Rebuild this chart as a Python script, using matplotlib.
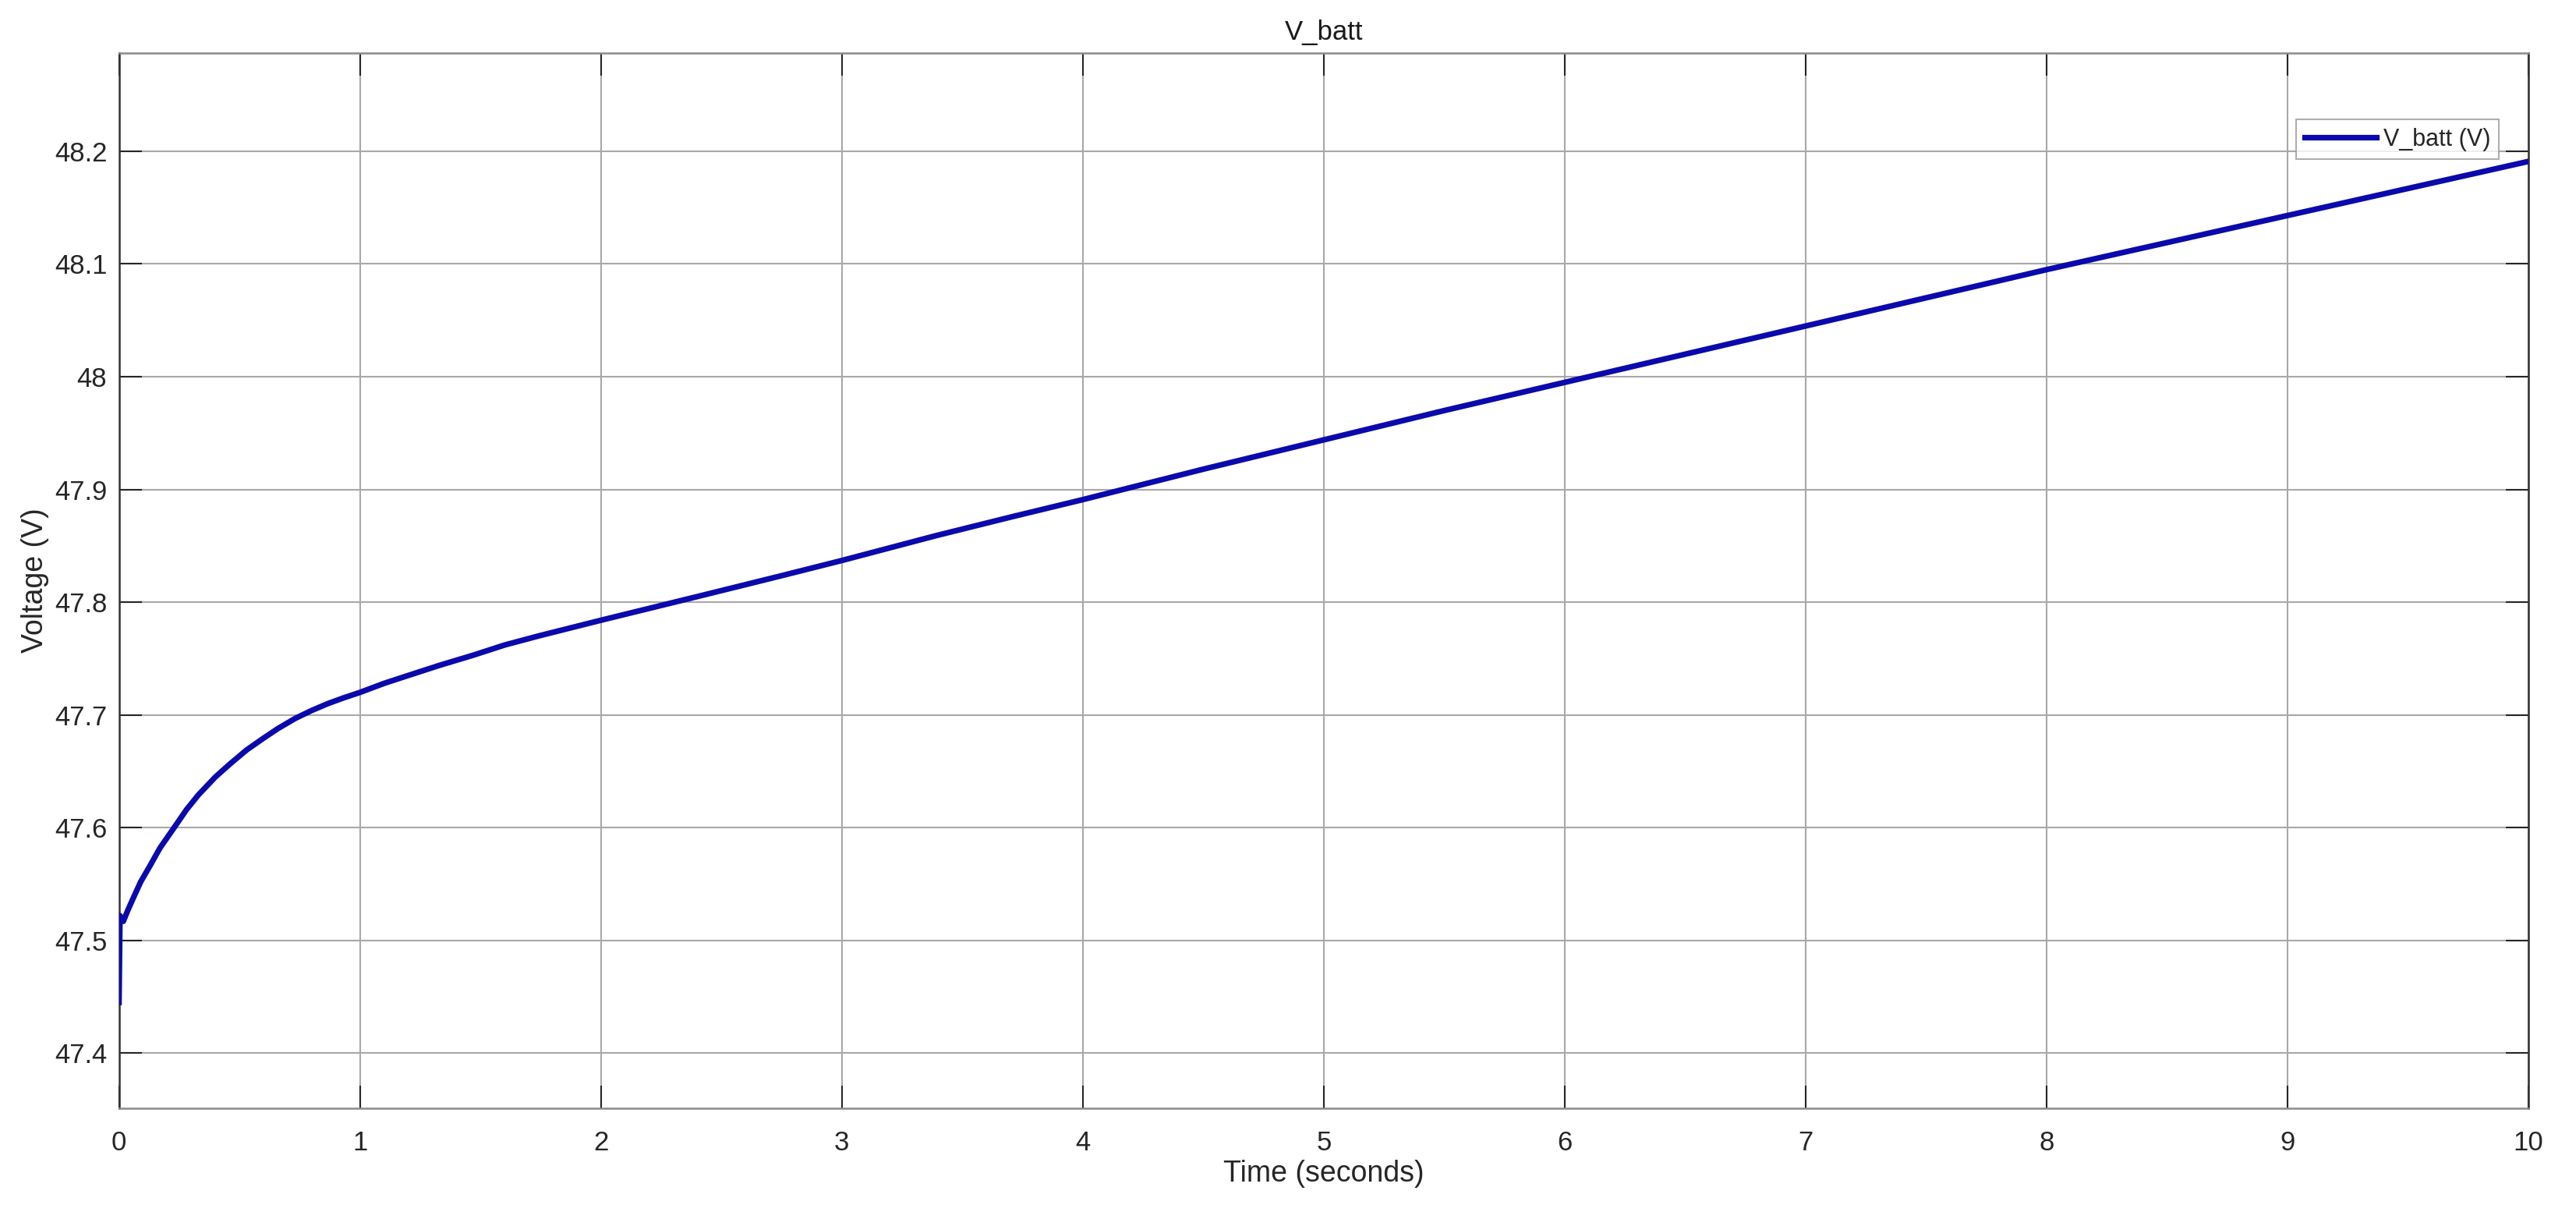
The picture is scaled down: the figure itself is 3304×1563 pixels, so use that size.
import numpy as np
import matplotlib.pyplot as plt

plt.rcParams['font.family'] = ['Liberation Sans', 'DejaVu Sans']

# values
time_s = [0.0, 0.004, 0.018, 0.035, 0.06, 0.09, 0.128, 0.17, 0.235, 0.28,
          0.329, 0.4, 0.463, 0.53, 0.597, 0.66, 0.732, 0.8, 0.866, 0.93, 1.0,
          1.1, 1.2, 1.33, 1.47, 1.6, 1.74, 1.87, 2.0, 2.4, 2.74, 3.0, 3.39,
          3.71, 4.0, 4.5, 5.0, 5.5, 6.0, 6.5, 7.0, 7.5, 8.0, 8.5, 9.0, 9.5, 10.0]
v_batt = [47.445, 47.522, 47.517, 47.526, 47.538, 47.552, 47.566, 47.582,
          47.602, 47.616, 47.629, 47.645, 47.657, 47.669, 47.679, 47.688,
          47.697, 47.704, 47.710, 47.715, 47.720, 47.728, 47.735, 47.744,
          47.753, 47.762, 47.770, 47.777, 47.784, 47.805, 47.823, 47.837,
          47.859, 47.876, 47.891, 47.918, 47.944, 47.970, 47.995, 48.020,
          48.045, 48.070, 48.095, 48.119, 48.143, 48.167, 48.191]

x_ticks = list(range(0, 11))
y_ticks = [47.4, 47.5, 47.6, 47.7, 47.8, 47.9, 48.0, 48.1, 48.2]
y_tick_labels = ['47.4', '47.5', '47.6', '47.7', '47.8', '47.9', '48', '48.1', '48.2']

fig = plt.figure(figsize=(33.04, 15.63), dpi=100)
ax = fig.add_axes([0.0462, 0.0908, 0.9354, 0.8657])

ax.plot(time_s, v_batt, color='#0a0aac', linewidth=5.2, label='V_batt (V)',
        solid_joinstyle='round', zorder=3)

ax.set_xlim(0, 10)
ax.set_ylim(47.3511, 48.2871)
ax.set_xticks(x_ticks)
ax.set_yticks(y_ticks)
ax.set_yticklabels(y_tick_labels)

ax.grid(True, color='#a8a8a8', linewidth=1.5, zorder=0)
ax.tick_params(direction='in', length=21, width=1.5, top=True, right=True,
               labelsize=25, colors='#262626')
ax.tick_params(axis='x', pad=20)
ax.tick_params(axis='y', pad=11)

for side in ['left', 'right']:
    ax.spines[side].set_color('#333333')
    ax.spines[side].set_linewidth(1.8)
for side in ['top', 'bottom']:
    ax.spines[side].set_color('#8a8a8a')
    ax.spines[side].set_linewidth(1.8)

ax.set_title('V_batt', fontsize=25, color='#1a1a1a', pad=12)
ax.set_xlabel('Time (seconds)', fontsize=27, color='#262626', labelpad=4)
ax.set_ylabel('Voltage (V)', fontsize=27, color='#262626', labelpad=5)

leg = ax.legend(loc='upper right', bbox_to_anchor=(0.9877, 0.9372), fontsize=22,
                frameon=True, fancybox=False, handlelength=3.0, borderaxespad=0,
                borderpad=0.35, handletextpad=0.3)
leg.get_frame().set_edgecolor('#9a9a9a')
leg.get_frame().set_linewidth(1.5)
for t in leg.get_texts():
    t.set_color('#262626')

fig.savefig('out.png', dpi=100)
